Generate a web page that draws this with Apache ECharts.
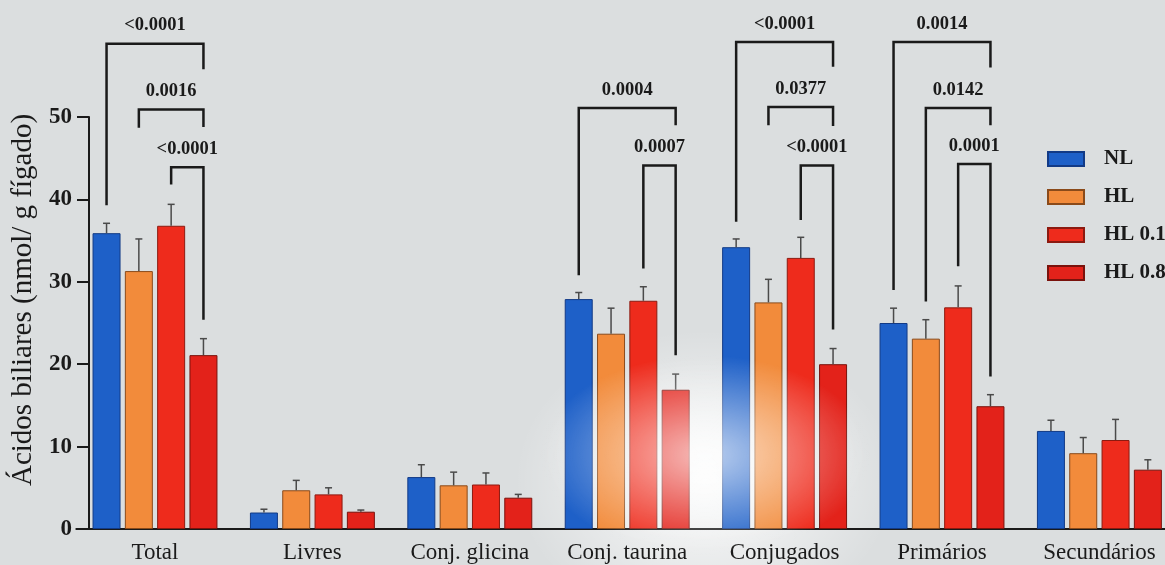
<!DOCTYPE html>
<html>
<head>
<meta charset="utf-8">
<script src="https://cdn.jsdelivr.net/npm/echarts@6/dist/echarts.min.js"></script>
<style>
  html, body { margin: 0; padding: 0; background: #dbdedf; }
  #wrap {
    position: relative; width: 1165px; height: 565px; overflow: hidden;
    background: radial-gradient(ellipse 190px 150px at 705px 480px,
      rgba(255,255,255,0.9) 0%, rgba(255,255,255,0.4) 55%, rgba(255,255,255,0) 100%), #dbdedf;
  }
  #chart { position: absolute; left: 0; top: 0; width: 1165px; height: 565px; }
  /* bright flash reflection washing over the bars */
  #glare {
    position: absolute; left: 0; top: 0; width: 1165px; height: 565px; pointer-events: none;
    background: radial-gradient(ellipse 165px 100px at 705px 455px,
      rgba(255,255,255,0.7) 0%, rgba(255,255,255,0.35) 50%, rgba(255,255,255,0) 100%);
  }
</style>
</head>
<body>
<div id="wrap">
  <div id="chart"></div>
  <div id="glare"></div>
</div>
<script>
// Bile acid content by fraction and diet group
const categories = ['Total', 'Livres', 'Conj. glicina', 'Conj. taurina', 'Conjugados', 'Primários', 'Secundários'];
const groupNames = ['NL', 'HL', 'HL 0.1', 'HL 0.8'];

const meanNL   = [35.9, 2.0, 6.3, 27.9, 34.2, 25.0, 11.9];
const meanHL   = [31.3, 4.7, 5.3, 23.7, 27.5, 23.1, 9.2];
const meanHL01 = [36.8, 4.2, 5.4, 27.7, 32.9, 26.9, 10.8];
const meanHL08 = [21.1, 2.1, 3.8, 16.9, 20.0, 14.9, 7.2];

const errNL   = [1.2, 0.4, 1.5, 0.8, 1.0, 1.8, 1.3];
const errHL   = [3.9, 1.2, 1.6, 3.1, 2.8, 2.3, 1.9];
const errHL01 = [2.6, 0.8, 1.4, 1.7, 2.5, 2.6, 2.5];
const errHL08 = [2.0, 0.2, 0.4, 1.9, 1.9, 1.4, 1.2];

const yTicks = [0, 10, 20, 30, 40, 50];

// Significance brackets: category, first group, second group,
// bracket height, left leg end, right leg end, p value
const bracketCat   = [0, 0, 0, 3, 3, 4, 4, 4, 5, 5, 5];
const bracketFrom  = [0, 1, 2, 0, 2, 0, 1, 2, 0, 1, 2];
const bracketTo    = [3, 3, 3, 3, 3, 3, 3, 3, 3, 3, 3];
const bracketTop   = [58.9, 50.9, 43.9, 51.1, 44.1, 59.1, 51.2, 44.1, 59.1, 51.1, 44.3];
const bracketLeft  = [39.3, 48.7, 41.8, 30.8, 31.6, 37.3, 49.0, 37.5, 29.0, 27.6, 31.9];
const bracketRight = [55.8, 48.8, 25.4, 49.0, 21.1, 56.1, 48.9, 24.2, 56.0, 49.0, 18.5];
const bracketP     = ['<0.0001', '0.0016', '<0.0001', '0.0004', '0.0007', '<0.0001',
                      '0.0377', '<0.0001', '0.0014', '0.0142', '0.0001'];

const means = [meanNL, meanHL, meanHL01, meanHL08];
const errs = [errNL, errHL, errHL01, errHL08];

const fills   = ['#1e60c8', '#f28b3b', '#ee2b1c', '#e3221a'];
const borders = ['#123a86', '#8a4a1a', '#8c1a10', '#7a120c'];

const BAR_W = 28;
const BAR_GAP_PX = 4.3;
const PITCH = BAR_W + BAR_GAP_PX;
const SERIF = '"Liberation Serif", "DejaVu Serif", serif';
const INK = '#1a1a1a';

function groupOffset(k) { return (k - 1.5) * PITCH; }

const barSeries = groupNames.map((name, k) => ({
  name: name,
  type: 'bar',
  data: means[k],
  barWidth: BAR_W,
  barGap: (BAR_GAP_PX / BAR_W * 100).toFixed(1) + '%',
  itemStyle: { color: fills[k], borderColor: borders[k], borderWidth: 1 },
  z: 2
}));

// upward SEM whiskers
const errData = [];
for (let k = 0; k < 4; k++) {
  for (let i = 0; i < categories.length; i++) {
    errData.push([i, k, means[k][i], means[k][i] + errs[k][i]]);
  }
}
const errSeries = {
  type: 'custom',
  data: errData,
  z: 3,
  silent: true,
  renderItem: function (params, api) {
    const i = api.value(0), k = api.value(1);
    const base = api.coord([i, api.value(2)]);
    const top = api.coord([i, api.value(3)]);
    const x = base[0] + groupOffset(k);
    const st = { stroke: '#4a4a4a', lineWidth: 1.5 };
    return {
      type: 'group',
      children: [
        { type: 'line', shape: { x1: x, y1: base[1], x2: x, y2: top[1] }, style: st },
        { type: 'line', shape: { x1: x - 3.5, y1: top[1], x2: x + 3.5, y2: top[1] }, style: st }
      ]
    };
  }
};

const bracketData = bracketCat.map((c, j) =>
  [c, bracketFrom[j], bracketTo[j], bracketTop[j], bracketLeft[j], bracketRight[j]]);
const bracketSeries = {
  type: 'custom',
  data: bracketData,
  clip: false,
  z: 4,
  silent: true,
  renderItem: function (params, api) {
    const c = api.value(0);
    const center = api.coord([c, 0])[0];
    const xl = center + groupOffset(api.value(1));
    const xr = center + groupOffset(api.value(2));
    const yt = api.coord([c, api.value(3)])[1];
    const yl = api.coord([c, api.value(4)])[1];
    const yr = api.coord([c, api.value(5)])[1];
    return {
      type: 'group',
      children: [
        {
          type: 'polyline',
          shape: { points: [[xl, yl], [xl, yt], [xr, yt], [xr, yr]] },
          style: { stroke: INK, lineWidth: 2.5, fill: null, lineJoin: 'miter' }
        },
        {
          type: 'text',
          style: {
            x: (xl + xr) / 2, y: yt - 18,
            text: bracketP[params.dataIndex],
            fill: INK, align: 'center', verticalAlign: 'middle',
            font: 'bold 18.5px ' + SERIF
          }
        }
      ]
    };
  }
};

const chart = echarts.init(document.getElementById('chart'), null, { renderer: 'canvas' });
chart.setOption({
  backgroundColor: 'transparent',
  animation: false,
  grid: { left: 76.3, right: -13.1, top: 117, bottom: 36, containLabel: false, outerBoundsMode: 'none' },
  legend: {
    data: groupNames.map(n => ({ name: n, icon: 'rect' })),
    orient: 'vertical',
    left: 1047, top: 148,
    padding: 0,
    itemWidth: 36, itemHeight: 14, itemGap: 16,
    textStyle: { fontFamily: SERIF, fontSize: 21, fontWeight: 'bold', color: INK,
                 lineHeight: 22, padding: [0, 0, 0, 15] },
    selectedMode: false
  },
  xAxis: {
    type: 'category',
    data: categories,
    axisLine: { lineStyle: { color: INK, width: 2 } },
    axisTick: { alignWithLabel: true, length: 7, lineStyle: { color: INK, width: 2 } },
    axisLabel: { fontFamily: SERIF, fontSize: 23, color: INK, margin: 12, interval: 0 }
  },
  yAxis: {
    type: 'value',
    min: yTicks[0], max: yTicks[yTicks.length - 1], interval: 10,
    offset: -12.7,
    name: 'Ácidos biliares (nmol/ g fígado)',
    nameLocation: 'middle',
    nameGap: 39,
    nameTextStyle: { fontFamily: SERIF, fontSize: 29, color: INK, padding: [0, 0, 0, 46] },
    axisLine: { show: true, lineStyle: { color: INK, width: 2 } },
    axisTick: { show: true, length: 12, lineStyle: { color: INK, width: 2 } },
    axisLabel: { fontFamily: SERIF, fontSize: 23, fontWeight: 'bold', color: INK, margin: 17 },
    splitLine: { show: false }
  },
  series: barSeries.concat([errSeries, bracketSeries])
});
</script>
</body>
</html>
